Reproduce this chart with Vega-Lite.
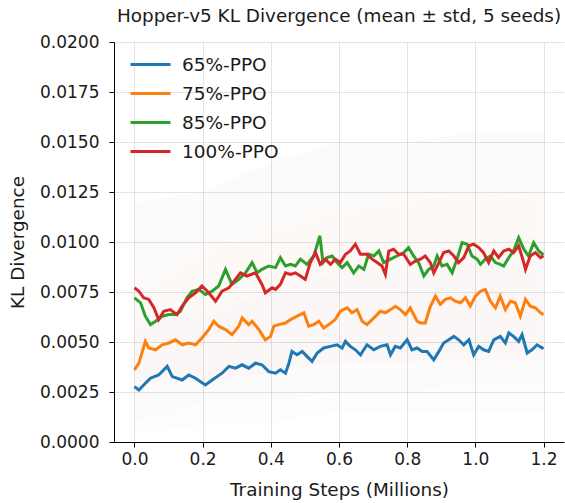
{
  "$schema": "https://vega.github.io/schema/vega-lite/v6.json",
  "width": 450,
  "height": 400,
  "autosize": {"type": "none"},
  "padding": {"left": 114, "top": 42, "right": 1, "bottom": 61},
  "background": "white",
  "config": {
    "font": "DejaVu Sans",
    "view": {"stroke": null},
    "axis": {
      "domainColor": "black",
      "domainWidth": 1,
      "tickColor": "black",
      "tickSize": 5,
      "tickWidth": 1,
      "labelColor": "#1a1a1a",
      "labelFontSize": 17,
      "titleFontSize": 18.4,
      "titleFontWeight": "normal",
      "titleColor": "#1a1a1a",
      "gridColor": "#b0b0b0",
      "gridOpacity": 0.35,
      "gridWidth": 1
    }
  },
  "title": {
    "text": "Hopper-v5 KL Divergence (mean ± std, 5 seeds)",
    "fontSize": 18.4,
    "fontWeight": "normal",
    "color": "#1a1a1a",
    "anchor": "middle",
    "offset": 8
  },
  "resolve": {"scale": {"color": "independent"}},
  "datasets": {
    "bands": [
      {"step": 0.0, "lo": 0.0005, "hi": 0.006, "algo": "65%-PPO"},
      {"step": 0.2, "lo": 0.0008, "hi": 0.0065, "algo": "65%-PPO"},
      {"step": 0.4, "lo": 0.001, "hi": 0.0075, "algo": "65%-PPO"},
      {"step": 0.6, "lo": 0.0015, "hi": 0.0085, "algo": "65%-PPO"},
      {"step": 0.8, "lo": 0.0015, "hi": 0.0085, "algo": "65%-PPO"},
      {"step": 1.0, "lo": 0.0015, "hi": 0.009, "algo": "65%-PPO"},
      {"step": 1.2, "lo": 0.0015, "hi": 0.009, "algo": "65%-PPO"},
      {"step": 0.0, "lo": 0.001, "hi": 0.007, "algo": "75%-PPO"},
      {"step": 0.2, "lo": 0.002, "hi": 0.0095, "algo": "75%-PPO"},
      {"step": 0.4, "lo": 0.002, "hi": 0.0105, "algo": "75%-PPO"},
      {"step": 0.6, "lo": 0.0025, "hi": 0.0115, "algo": "75%-PPO"},
      {"step": 0.8, "lo": 0.0025, "hi": 0.012, "algo": "75%-PPO"},
      {"step": 1.0, "lo": 0.003, "hi": 0.0125, "algo": "75%-PPO"},
      {"step": 1.2, "lo": 0.003, "hi": 0.012, "algo": "75%-PPO"},
      {"step": 0.0, "lo": 0.003, "hi": 0.012, "algo": "85%-PPO"},
      {"step": 0.2, "lo": 0.003, "hi": 0.0125, "algo": "85%-PPO"},
      {"step": 0.4, "lo": 0.0035, "hi": 0.014, "algo": "85%-PPO"},
      {"step": 0.6, "lo": 0.004, "hi": 0.015, "algo": "85%-PPO"},
      {"step": 0.8, "lo": 0.004, "hi": 0.015, "algo": "85%-PPO"},
      {"step": 1.0, "lo": 0.0045, "hi": 0.0155, "algo": "85%-PPO"},
      {"step": 1.2, "lo": 0.0045, "hi": 0.0155, "algo": "85%-PPO"},
      {"step": 0.0, "lo": 0.003, "hi": 0.012, "algo": "100%-PPO"},
      {"step": 0.2, "lo": 0.003, "hi": 0.0125, "algo": "100%-PPO"},
      {"step": 0.4, "lo": 0.0035, "hi": 0.014, "algo": "100%-PPO"},
      {"step": 0.6, "lo": 0.004, "hi": 0.015, "algo": "100%-PPO"},
      {"step": 0.8, "lo": 0.004, "hi": 0.015, "algo": "100%-PPO"},
      {"step": 1.0, "lo": 0.004, "hi": 0.0155, "algo": "100%-PPO"},
      {"step": 1.2, "lo": 0.004, "hi": 0.0155, "algo": "100%-PPO"}
    ],
    "means": [
      {"step": 0.000, "kl": 0.00277, "algo": "65%-PPO"},
      {"step": 0.013, "kl": 0.00260, "algo": "65%-PPO"},
      {"step": 0.030, "kl": 0.00290, "algo": "65%-PPO"},
      {"step": 0.047, "kl": 0.00319, "algo": "65%-PPO"},
      {"step": 0.071, "kl": 0.00335, "algo": "65%-PPO"},
      {"step": 0.096, "kl": 0.00378, "algo": "65%-PPO"},
      {"step": 0.111, "kl": 0.00327, "algo": "65%-PPO"},
      {"step": 0.140, "kl": 0.00310, "algo": "65%-PPO"},
      {"step": 0.159, "kl": 0.00335, "algo": "65%-PPO"},
      {"step": 0.179, "kl": 0.00319, "algo": "65%-PPO"},
      {"step": 0.208, "kl": 0.00285, "algo": "65%-PPO"},
      {"step": 0.228, "kl": 0.00310, "algo": "65%-PPO"},
      {"step": 0.257, "kl": 0.00344, "algo": "65%-PPO"},
      {"step": 0.277, "kl": 0.00378, "algo": "65%-PPO"},
      {"step": 0.296, "kl": 0.00369, "algo": "65%-PPO"},
      {"step": 0.316, "kl": 0.00386, "algo": "65%-PPO"},
      {"step": 0.335, "kl": 0.00369, "algo": "65%-PPO"},
      {"step": 0.355, "kl": 0.00394, "algo": "65%-PPO"},
      {"step": 0.374, "kl": 0.00386, "algo": "65%-PPO"},
      {"step": 0.394, "kl": 0.00352, "algo": "65%-PPO"},
      {"step": 0.414, "kl": 0.00344, "algo": "65%-PPO"},
      {"step": 0.428, "kl": 0.00361, "algo": "65%-PPO"},
      {"step": 0.443, "kl": 0.00344, "algo": "65%-PPO"},
      {"step": 0.453, "kl": 0.00394, "algo": "65%-PPO"},
      {"step": 0.462, "kl": 0.00453, "algo": "65%-PPO"},
      {"step": 0.477, "kl": 0.00436, "algo": "65%-PPO"},
      {"step": 0.492, "kl": 0.00453, "algo": "65%-PPO"},
      {"step": 0.506, "kl": 0.00428, "algo": "65%-PPO"},
      {"step": 0.521, "kl": 0.00403, "algo": "65%-PPO"},
      {"step": 0.536, "kl": 0.00445, "algo": "65%-PPO"},
      {"step": 0.555, "kl": 0.00470, "algo": "65%-PPO"},
      {"step": 0.575, "kl": 0.00478, "algo": "65%-PPO"},
      {"step": 0.594, "kl": 0.00486, "algo": "65%-PPO"},
      {"step": 0.609, "kl": 0.00470, "algo": "65%-PPO"},
      {"step": 0.619, "kl": 0.00503, "algo": "65%-PPO"},
      {"step": 0.633, "kl": 0.00478, "algo": "65%-PPO"},
      {"step": 0.648, "kl": 0.00461, "algo": "65%-PPO"},
      {"step": 0.663, "kl": 0.00436, "algo": "65%-PPO"},
      {"step": 0.682, "kl": 0.00486, "algo": "65%-PPO"},
      {"step": 0.702, "kl": 0.00461, "algo": "65%-PPO"},
      {"step": 0.721, "kl": 0.00478, "algo": "65%-PPO"},
      {"step": 0.741, "kl": 0.00486, "algo": "65%-PPO"},
      {"step": 0.751, "kl": 0.00436, "algo": "65%-PPO"},
      {"step": 0.765, "kl": 0.00478, "algo": "65%-PPO"},
      {"step": 0.780, "kl": 0.00470, "algo": "65%-PPO"},
      {"step": 0.800, "kl": 0.00511, "algo": "65%-PPO"},
      {"step": 0.814, "kl": 0.00461, "algo": "65%-PPO"},
      {"step": 0.829, "kl": 0.00470, "algo": "65%-PPO"},
      {"step": 0.844, "kl": 0.00453, "algo": "65%-PPO"},
      {"step": 0.858, "kl": 0.00453, "algo": "65%-PPO"},
      {"step": 0.878, "kl": 0.00411, "algo": "65%-PPO"},
      {"step": 0.893, "kl": 0.00453, "algo": "65%-PPO"},
      {"step": 0.907, "kl": 0.00495, "algo": "65%-PPO"},
      {"step": 0.922, "kl": 0.00511, "algo": "65%-PPO"},
      {"step": 0.937, "kl": 0.00528, "algo": "65%-PPO"},
      {"step": 0.951, "kl": 0.00511, "algo": "65%-PPO"},
      {"step": 0.966, "kl": 0.00486, "algo": "65%-PPO"},
      {"step": 0.981, "kl": 0.00511, "algo": "65%-PPO"},
      {"step": 0.995, "kl": 0.00436, "algo": "65%-PPO"},
      {"step": 1.010, "kl": 0.00478, "algo": "65%-PPO"},
      {"step": 1.024, "kl": 0.00461, "algo": "65%-PPO"},
      {"step": 1.039, "kl": 0.00453, "algo": "65%-PPO"},
      {"step": 1.054, "kl": 0.00511, "algo": "65%-PPO"},
      {"step": 1.073, "kl": 0.00528, "algo": "65%-PPO"},
      {"step": 1.088, "kl": 0.00495, "algo": "65%-PPO"},
      {"step": 1.098, "kl": 0.00545, "algo": "65%-PPO"},
      {"step": 1.112, "kl": 0.00528, "algo": "65%-PPO"},
      {"step": 1.127, "kl": 0.00503, "algo": "65%-PPO"},
      {"step": 1.137, "kl": 0.00537, "algo": "65%-PPO"},
      {"step": 1.152, "kl": 0.00445, "algo": "65%-PPO"},
      {"step": 1.166, "kl": 0.00461, "algo": "65%-PPO"},
      {"step": 1.181, "kl": 0.00486, "algo": "65%-PPO"},
      {"step": 1.196, "kl": 0.00470, "algo": "65%-PPO"},
      {"step": 1.200, "kl": 0.00474, "algo": "65%-PPO"},

      {"step": 0.000, "kl": 0.00361, "algo": "75%-PPO"},
      {"step": 0.013, "kl": 0.00394, "algo": "75%-PPO"},
      {"step": 0.032, "kl": 0.00503, "algo": "75%-PPO"},
      {"step": 0.042, "kl": 0.00470, "algo": "75%-PPO"},
      {"step": 0.062, "kl": 0.00461, "algo": "75%-PPO"},
      {"step": 0.081, "kl": 0.00486, "algo": "75%-PPO"},
      {"step": 0.101, "kl": 0.00495, "algo": "75%-PPO"},
      {"step": 0.120, "kl": 0.00511, "algo": "75%-PPO"},
      {"step": 0.140, "kl": 0.00486, "algo": "75%-PPO"},
      {"step": 0.159, "kl": 0.00495, "algo": "75%-PPO"},
      {"step": 0.179, "kl": 0.00486, "algo": "75%-PPO"},
      {"step": 0.198, "kl": 0.00520, "algo": "75%-PPO"},
      {"step": 0.218, "kl": 0.00562, "algo": "75%-PPO"},
      {"step": 0.233, "kl": 0.00604, "algo": "75%-PPO"},
      {"step": 0.247, "kl": 0.00579, "algo": "75%-PPO"},
      {"step": 0.267, "kl": 0.00562, "algo": "75%-PPO"},
      {"step": 0.286, "kl": 0.00537, "algo": "75%-PPO"},
      {"step": 0.306, "kl": 0.00579, "algo": "75%-PPO"},
      {"step": 0.316, "kl": 0.00620, "algo": "75%-PPO"},
      {"step": 0.335, "kl": 0.00587, "algo": "75%-PPO"},
      {"step": 0.345, "kl": 0.00604, "algo": "75%-PPO"},
      {"step": 0.365, "kl": 0.00562, "algo": "75%-PPO"},
      {"step": 0.384, "kl": 0.00511, "algo": "75%-PPO"},
      {"step": 0.399, "kl": 0.00528, "algo": "75%-PPO"},
      {"step": 0.409, "kl": 0.00579, "algo": "75%-PPO"},
      {"step": 0.423, "kl": 0.00587, "algo": "75%-PPO"},
      {"step": 0.443, "kl": 0.00595, "algo": "75%-PPO"},
      {"step": 0.458, "kl": 0.00612, "algo": "75%-PPO"},
      {"step": 0.477, "kl": 0.00629, "algo": "75%-PPO"},
      {"step": 0.497, "kl": 0.00646, "algo": "75%-PPO"},
      {"step": 0.511, "kl": 0.00579, "algo": "75%-PPO"},
      {"step": 0.526, "kl": 0.00587, "algo": "75%-PPO"},
      {"step": 0.541, "kl": 0.00604, "algo": "75%-PPO"},
      {"step": 0.555, "kl": 0.00570, "algo": "75%-PPO"},
      {"step": 0.570, "kl": 0.00587, "algo": "75%-PPO"},
      {"step": 0.589, "kl": 0.00612, "algo": "75%-PPO"},
      {"step": 0.604, "kl": 0.00654, "algo": "75%-PPO"},
      {"step": 0.624, "kl": 0.00671, "algo": "75%-PPO"},
      {"step": 0.638, "kl": 0.00646, "algo": "75%-PPO"},
      {"step": 0.653, "kl": 0.00662, "algo": "75%-PPO"},
      {"step": 0.668, "kl": 0.00604, "algo": "75%-PPO"},
      {"step": 0.682, "kl": 0.00587, "algo": "75%-PPO"},
      {"step": 0.697, "kl": 0.00612, "algo": "75%-PPO"},
      {"step": 0.712, "kl": 0.00637, "algo": "75%-PPO"},
      {"step": 0.721, "kl": 0.00654, "algo": "75%-PPO"},
      {"step": 0.736, "kl": 0.00646, "algo": "75%-PPO"},
      {"step": 0.751, "kl": 0.00662, "algo": "75%-PPO"},
      {"step": 0.765, "kl": 0.00679, "algo": "75%-PPO"},
      {"step": 0.780, "kl": 0.00662, "algo": "75%-PPO"},
      {"step": 0.795, "kl": 0.00637, "algo": "75%-PPO"},
      {"step": 0.809, "kl": 0.00671, "algo": "75%-PPO"},
      {"step": 0.829, "kl": 0.00604, "algo": "75%-PPO"},
      {"step": 0.839, "kl": 0.00595, "algo": "75%-PPO"},
      {"step": 0.853, "kl": 0.00595, "algo": "75%-PPO"},
      {"step": 0.868, "kl": 0.00679, "algo": "75%-PPO"},
      {"step": 0.883, "kl": 0.00729, "algo": "75%-PPO"},
      {"step": 0.897, "kl": 0.00688, "algo": "75%-PPO"},
      {"step": 0.912, "kl": 0.00713, "algo": "75%-PPO"},
      {"step": 0.927, "kl": 0.00721, "algo": "75%-PPO"},
      {"step": 0.941, "kl": 0.00704, "algo": "75%-PPO"},
      {"step": 0.956, "kl": 0.00696, "algo": "75%-PPO"},
      {"step": 0.971, "kl": 0.00721, "algo": "75%-PPO"},
      {"step": 0.985, "kl": 0.00679, "algo": "75%-PPO"},
      {"step": 1.000, "kl": 0.00729, "algo": "75%-PPO"},
      {"step": 1.015, "kl": 0.00754, "algo": "75%-PPO"},
      {"step": 1.029, "kl": 0.00763, "algo": "75%-PPO"},
      {"step": 1.044, "kl": 0.00704, "algo": "75%-PPO"},
      {"step": 1.059, "kl": 0.00671, "algo": "75%-PPO"},
      {"step": 1.073, "kl": 0.00729, "algo": "75%-PPO"},
      {"step": 1.088, "kl": 0.00662, "algo": "75%-PPO"},
      {"step": 1.103, "kl": 0.00704, "algo": "75%-PPO"},
      {"step": 1.117, "kl": 0.00696, "algo": "75%-PPO"},
      {"step": 1.132, "kl": 0.00629, "algo": "75%-PPO"},
      {"step": 1.147, "kl": 0.00713, "algo": "75%-PPO"},
      {"step": 1.161, "kl": 0.00679, "algo": "75%-PPO"},
      {"step": 1.176, "kl": 0.00671, "algo": "75%-PPO"},
      {"step": 1.191, "kl": 0.00646, "algo": "75%-PPO"},
      {"step": 1.200, "kl": 0.00637, "algo": "75%-PPO"},

      {"step": 0.000, "kl": 0.00721, "algo": "85%-PPO"},
      {"step": 0.018, "kl": 0.00696, "algo": "85%-PPO"},
      {"step": 0.032, "kl": 0.00629, "algo": "85%-PPO"},
      {"step": 0.047, "kl": 0.00587, "algo": "85%-PPO"},
      {"step": 0.062, "kl": 0.00604, "algo": "85%-PPO"},
      {"step": 0.081, "kl": 0.00629, "algo": "85%-PPO"},
      {"step": 0.101, "kl": 0.00637, "algo": "85%-PPO"},
      {"step": 0.120, "kl": 0.00637, "algo": "85%-PPO"},
      {"step": 0.135, "kl": 0.00654, "algo": "85%-PPO"},
      {"step": 0.154, "kl": 0.00721, "algo": "85%-PPO"},
      {"step": 0.169, "kl": 0.00754, "algo": "85%-PPO"},
      {"step": 0.189, "kl": 0.00763, "algo": "85%-PPO"},
      {"step": 0.208, "kl": 0.00738, "algo": "85%-PPO"},
      {"step": 0.228, "kl": 0.00754, "algo": "85%-PPO"},
      {"step": 0.247, "kl": 0.00780, "algo": "85%-PPO"},
      {"step": 0.267, "kl": 0.00863, "algo": "85%-PPO"},
      {"step": 0.286, "kl": 0.00788, "algo": "85%-PPO"},
      {"step": 0.306, "kl": 0.00813, "algo": "85%-PPO"},
      {"step": 0.326, "kl": 0.00846, "algo": "85%-PPO"},
      {"step": 0.345, "kl": 0.00897, "algo": "85%-PPO"},
      {"step": 0.360, "kl": 0.00846, "algo": "85%-PPO"},
      {"step": 0.374, "kl": 0.00863, "algo": "85%-PPO"},
      {"step": 0.394, "kl": 0.00880, "algo": "85%-PPO"},
      {"step": 0.414, "kl": 0.00872, "algo": "85%-PPO"},
      {"step": 0.428, "kl": 0.00922, "algo": "85%-PPO"},
      {"step": 0.443, "kl": 0.00880, "algo": "85%-PPO"},
      {"step": 0.458, "kl": 0.00888, "algo": "85%-PPO"},
      {"step": 0.472, "kl": 0.00880, "algo": "85%-PPO"},
      {"step": 0.487, "kl": 0.00914, "algo": "85%-PPO"},
      {"step": 0.506, "kl": 0.00888, "algo": "85%-PPO"},
      {"step": 0.526, "kl": 0.00930, "algo": "85%-PPO"},
      {"step": 0.544, "kl": 0.01031, "algo": "85%-PPO"},
      {"step": 0.553, "kl": 0.00897, "algo": "85%-PPO"},
      {"step": 0.565, "kl": 0.00922, "algo": "85%-PPO"},
      {"step": 0.580, "kl": 0.00930, "algo": "85%-PPO"},
      {"step": 0.594, "kl": 0.00897, "algo": "85%-PPO"},
      {"step": 0.609, "kl": 0.00872, "algo": "85%-PPO"},
      {"step": 0.624, "kl": 0.00897, "algo": "85%-PPO"},
      {"step": 0.643, "kl": 0.00846, "algo": "85%-PPO"},
      {"step": 0.658, "kl": 0.00880, "algo": "85%-PPO"},
      {"step": 0.673, "kl": 0.00863, "algo": "85%-PPO"},
      {"step": 0.687, "kl": 0.00939, "algo": "85%-PPO"},
      {"step": 0.702, "kl": 0.00930, "algo": "85%-PPO"},
      {"step": 0.717, "kl": 0.00955, "algo": "85%-PPO"},
      {"step": 0.731, "kl": 0.00897, "algo": "85%-PPO"},
      {"step": 0.751, "kl": 0.00914, "algo": "85%-PPO"},
      {"step": 0.770, "kl": 0.00930, "algo": "85%-PPO"},
      {"step": 0.790, "kl": 0.00947, "algo": "85%-PPO"},
      {"step": 0.804, "kl": 0.00972, "algo": "85%-PPO"},
      {"step": 0.819, "kl": 0.00930, "algo": "85%-PPO"},
      {"step": 0.834, "kl": 0.00895, "algo": "85%-PPO"},
      {"step": 0.849, "kl": 0.00830, "algo": "85%-PPO"},
      {"step": 0.863, "kl": 0.00863, "algo": "85%-PPO"},
      {"step": 0.878, "kl": 0.00880, "algo": "85%-PPO"},
      {"step": 0.888, "kl": 0.00930, "algo": "85%-PPO"},
      {"step": 0.902, "kl": 0.00880, "algo": "85%-PPO"},
      {"step": 0.917, "kl": 0.00888, "algo": "85%-PPO"},
      {"step": 0.932, "kl": 0.00846, "algo": "85%-PPO"},
      {"step": 0.946, "kl": 0.00914, "algo": "85%-PPO"},
      {"step": 0.961, "kl": 0.00997, "algo": "85%-PPO"},
      {"step": 0.976, "kl": 0.00989, "algo": "85%-PPO"},
      {"step": 0.990, "kl": 0.00930, "algo": "85%-PPO"},
      {"step": 1.005, "kl": 0.00914, "algo": "85%-PPO"},
      {"step": 1.015, "kl": 0.00888, "algo": "85%-PPO"},
      {"step": 1.029, "kl": 0.00914, "algo": "85%-PPO"},
      {"step": 1.044, "kl": 0.00930, "algo": "85%-PPO"},
      {"step": 1.059, "kl": 0.00897, "algo": "85%-PPO"},
      {"step": 1.073, "kl": 0.00888, "algo": "85%-PPO"},
      {"step": 1.083, "kl": 0.00880, "algo": "85%-PPO"},
      {"step": 1.098, "kl": 0.00922, "algo": "85%-PPO"},
      {"step": 1.112, "kl": 0.00955, "algo": "85%-PPO"},
      {"step": 1.127, "kl": 0.01022, "algo": "85%-PPO"},
      {"step": 1.142, "kl": 0.00964, "algo": "85%-PPO"},
      {"step": 1.156, "kl": 0.00930, "algo": "85%-PPO"},
      {"step": 1.171, "kl": 0.00997, "algo": "85%-PPO"},
      {"step": 1.186, "kl": 0.00955, "algo": "85%-PPO"},
      {"step": 1.200, "kl": 0.00935, "algo": "85%-PPO"},

      {"step": 0.000, "kl": 0.00771, "algo": "100%-PPO"},
      {"step": 0.013, "kl": 0.00754, "algo": "100%-PPO"},
      {"step": 0.027, "kl": 0.00721, "algo": "100%-PPO"},
      {"step": 0.042, "kl": 0.00713, "algo": "100%-PPO"},
      {"step": 0.057, "kl": 0.00671, "algo": "100%-PPO"},
      {"step": 0.071, "kl": 0.00612, "algo": "100%-PPO"},
      {"step": 0.086, "kl": 0.00654, "algo": "100%-PPO"},
      {"step": 0.105, "kl": 0.00662, "algo": "100%-PPO"},
      {"step": 0.125, "kl": 0.00637, "algo": "100%-PPO"},
      {"step": 0.140, "kl": 0.00679, "algo": "100%-PPO"},
      {"step": 0.159, "kl": 0.00721, "algo": "100%-PPO"},
      {"step": 0.179, "kl": 0.00746, "algo": "100%-PPO"},
      {"step": 0.198, "kl": 0.00780, "algo": "100%-PPO"},
      {"step": 0.218, "kl": 0.00746, "algo": "100%-PPO"},
      {"step": 0.238, "kl": 0.00704, "algo": "100%-PPO"},
      {"step": 0.257, "kl": 0.00754, "algo": "100%-PPO"},
      {"step": 0.277, "kl": 0.00771, "algo": "100%-PPO"},
      {"step": 0.296, "kl": 0.00813, "algo": "100%-PPO"},
      {"step": 0.311, "kl": 0.00846, "algo": "100%-PPO"},
      {"step": 0.330, "kl": 0.00830, "algo": "100%-PPO"},
      {"step": 0.355, "kl": 0.00846, "algo": "100%-PPO"},
      {"step": 0.374, "kl": 0.00788, "algo": "100%-PPO"},
      {"step": 0.384, "kl": 0.00746, "algo": "100%-PPO"},
      {"step": 0.404, "kl": 0.00771, "algo": "100%-PPO"},
      {"step": 0.414, "kl": 0.00763, "algo": "100%-PPO"},
      {"step": 0.428, "kl": 0.00788, "algo": "100%-PPO"},
      {"step": 0.443, "kl": 0.00846, "algo": "100%-PPO"},
      {"step": 0.458, "kl": 0.00838, "algo": "100%-PPO"},
      {"step": 0.472, "kl": 0.00846, "algo": "100%-PPO"},
      {"step": 0.487, "kl": 0.00830, "algo": "100%-PPO"},
      {"step": 0.501, "kl": 0.00813, "algo": "100%-PPO"},
      {"step": 0.516, "kl": 0.00897, "algo": "100%-PPO"},
      {"step": 0.531, "kl": 0.00947, "algo": "100%-PPO"},
      {"step": 0.545, "kl": 0.00888, "algo": "100%-PPO"},
      {"step": 0.560, "kl": 0.00914, "algo": "100%-PPO"},
      {"step": 0.575, "kl": 0.00888, "algo": "100%-PPO"},
      {"step": 0.589, "kl": 0.00914, "algo": "100%-PPO"},
      {"step": 0.604, "kl": 0.00897, "algo": "100%-PPO"},
      {"step": 0.619, "kl": 0.00939, "algo": "100%-PPO"},
      {"step": 0.633, "kl": 0.00955, "algo": "100%-PPO"},
      {"step": 0.648, "kl": 0.00989, "algo": "100%-PPO"},
      {"step": 0.663, "kl": 0.00939, "algo": "100%-PPO"},
      {"step": 0.682, "kl": 0.00939, "algo": "100%-PPO"},
      {"step": 0.697, "kl": 0.00914, "algo": "100%-PPO"},
      {"step": 0.712, "kl": 0.00897, "algo": "100%-PPO"},
      {"step": 0.726, "kl": 0.00880, "algo": "100%-PPO"},
      {"step": 0.736, "kl": 0.00838, "algo": "100%-PPO"},
      {"step": 0.746, "kl": 0.00955, "algo": "100%-PPO"},
      {"step": 0.760, "kl": 0.00964, "algo": "100%-PPO"},
      {"step": 0.775, "kl": 0.00939, "algo": "100%-PPO"},
      {"step": 0.790, "kl": 0.00939, "algo": "100%-PPO"},
      {"step": 0.809, "kl": 0.00888, "algo": "100%-PPO"},
      {"step": 0.824, "kl": 0.00905, "algo": "100%-PPO"},
      {"step": 0.839, "kl": 0.00914, "algo": "100%-PPO"},
      {"step": 0.853, "kl": 0.00930, "algo": "100%-PPO"},
      {"step": 0.868, "kl": 0.00897, "algo": "100%-PPO"},
      {"step": 0.878, "kl": 0.00846, "algo": "100%-PPO"},
      {"step": 0.893, "kl": 0.00897, "algo": "100%-PPO"},
      {"step": 0.907, "kl": 0.00947, "algo": "100%-PPO"},
      {"step": 0.922, "kl": 0.00955, "algo": "100%-PPO"},
      {"step": 0.937, "kl": 0.00930, "algo": "100%-PPO"},
      {"step": 0.951, "kl": 0.00897, "algo": "100%-PPO"},
      {"step": 0.966, "kl": 0.00922, "algo": "100%-PPO"},
      {"step": 0.981, "kl": 0.00981, "algo": "100%-PPO"},
      {"step": 0.995, "kl": 0.00989, "algo": "100%-PPO"},
      {"step": 1.010, "kl": 0.00972, "algo": "100%-PPO"},
      {"step": 1.024, "kl": 0.00947, "algo": "100%-PPO"},
      {"step": 1.039, "kl": 0.00897, "algo": "100%-PPO"},
      {"step": 1.054, "kl": 0.00955, "algo": "100%-PPO"},
      {"step": 1.068, "kl": 0.00922, "algo": "100%-PPO"},
      {"step": 1.083, "kl": 0.00955, "algo": "100%-PPO"},
      {"step": 1.098, "kl": 0.00964, "algo": "100%-PPO"},
      {"step": 1.112, "kl": 0.00947, "algo": "100%-PPO"},
      {"step": 1.127, "kl": 0.00981, "algo": "100%-PPO"},
      {"step": 1.142, "kl": 0.00897, "algo": "100%-PPO"},
      {"step": 1.147, "kl": 0.00863, "algo": "100%-PPO"},
      {"step": 1.161, "kl": 0.00930, "algo": "100%-PPO"},
      {"step": 1.176, "kl": 0.00947, "algo": "100%-PPO"},
      {"step": 1.191, "kl": 0.00922, "algo": "100%-PPO"},
      {"step": 1.200, "kl": 0.00930, "algo": "100%-PPO"}
    ]
  },
  "layer": [
    {
      "data": {"name": "bands"},
      "mark": {"type": "area", "opacity": 0.012, "clip": true},
      "encoding": {
        "x": {"field": "step", "type": "quantitative"},
        "y": {"field": "lo", "type": "quantitative"},
        "y2": {"field": "hi"},
        "color": {
          "field": "algo",
          "type": "nominal",
          "scale": {
            "domain": ["65%-PPO", "75%-PPO", "85%-PPO", "100%-PPO"],
            "range": ["#1f77b4", "#ff7f0e", "#2ca02c", "#d62728"]
          },
          "legend": null
        },
        "detail": {"field": "algo"}
      }
    },
    {
      "data": {"name": "means"},
      "mark": {"type": "line", "strokeWidth": 3, "clip": true},
      "encoding": {
        "x": {
          "field": "step",
          "type": "quantitative",
          "scale": {"domain": [-0.06, 1.26], "nice": false, "zero": false},
          "axis": {
            "title": "Training Steps (Millions)",
            "values": [0, 0.2, 0.4, 0.6, 0.8, 1.0, 1.2],
            "format": ".1f",
            "labelPadding": 4,
            "titlePadding": 13
          }
        },
        "y": {
          "field": "kl",
          "type": "quantitative",
          "scale": {"domain": [0, 0.02], "nice": false},
          "axis": {
            "title": "KL Divergence",
            "values": [0, 0.0025, 0.005, 0.0075, 0.01, 0.0125, 0.015, 0.0175, 0.02],
            "format": ".4f",
            "labelPadding": 10,
            "titlePadding": 12
          }
        },
        "color": {
          "field": "algo",
          "type": "nominal",
          "scale": {
            "domain": ["65%-PPO", "75%-PPO", "85%-PPO", "100%-PPO"],
            "range": ["#1f77b4", "#ff7f0e", "#2ca02c", "#d62728"]
          },
          "legend": {
            "title": null,
            "orient": "none",
            "legendX": 25,
            "legendY": 11,
            "symbolType": "M-2,0H2",
            "symbolSize": 400,
            "symbolStrokeWidth": 3,
            "labelFontSize": 18.5,
            "labelColor": "#1a1a1a",
            "labelOffset": 20,
            "rowPadding": 8
          }
        },
        "order": {"field": "step", "type": "quantitative"}
      }
    }
  ]
}
